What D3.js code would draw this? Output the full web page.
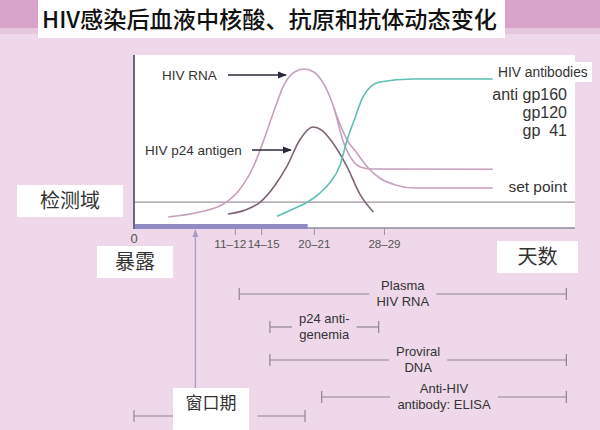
<!DOCTYPE html>
<html><head><meta charset="utf-8">
<script src="https://cdn.jsdelivr.net/npm/d3@7"></script>
<style>
body{margin:0;padding:0;background:#eed8e9;}
svg{display:block;}
</style></head>
<body>
<svg id="c" width="600" height="430"></svg>
<script>
// ---------- data ----------
const title = "HIV感染后血液中核酸、抗原和抗体动态变化";
const tickDays = [11.5, 14.5, 20.5, 28.5];
const tickLabels = ["11–12", "14–15", "20–21", "28–29"];
const detectionLevel = 15;
const exposureWindowEnd = 19.8;   // purple bar on axis (days)
const exposureArrowDay = 7;

// curves: day, relative level (0-100)
const rnaDays   = [3.9, 7.5, 10.4, 12.0, 13.7, 14.8, 16.0, 17.1, 18.3, 19.4, 20.5, 21.7, 22.8, 23.8, 24.9, 25.8, 27.1, 40.9];
const rnaLevels = [6.4, 9.2, 14.5, 22.0, 36.4, 50.9, 68.2, 82.7, 90.2, 91.9, 90.2, 82.7, 69.4, 50.9, 39.3, 35.3, 34.1, 34.0];
const rna2Days   = [22.8, 23.3, 24.3, 25.4, 26.7, 28.0, 29.8, 32.0, 40.9];
const rna2Levels = [69.4, 62.4, 50.9, 43.4, 34.7, 28.9, 24.9, 23.1, 23.1];
const p24Days   = [10.7, 12.7, 14.4, 16.1, 17.4, 18.9, 20.4, 21.4, 22.6, 24.3, 25.8, 27.3];
const p24Levels = [8.1, 10.4, 15.0, 24.9, 35.3, 50.9, 58.4, 56.6, 49.7, 35.3, 19.1, 9.2];
const abDays   = [16.3, 18.4, 19.8, 21.2, 22.3, 23.5, 24.3, 25.2, 26.1, 28.0, 31.8, 40.9];
const abLevels = [6.8, 11.6, 15.0, 20.2, 26.0, 36.4, 50.9, 63.6, 75.7, 84.4, 86.1, 86.1];

// assay detection ranges (days)
const assayLines1 = ["Plasma", "p24 anti-", "Proviral", "Anti-HIV", "窗口期"];
const assayLines2 = ["HIV RNA", "genemia", "DNA", "antibody: ELISA", ""];
const assayStart = [12.0, 15.5, 15.5, 21.4, 0];
const assayEnd   = [49.3, 27.9, 49.3, 49.3, 19.5];

// ---------- drawing ----------
const svg = d3.select("#c");
const latin = "'Liberation Sans', Arial, sans-serif";
const cjk = "'Noto Sans CJK SC', sans-serif";

// background bands
svg.append("rect").attr("x",0).attr("y",0).attr("width",600).attr("height",430).attr("fill","#eed8e9");
svg.append("rect").attr("x",0).attr("y",0).attr("width",600).attr("height",28).attr("fill","#d7a3c9");
svg.append("rect").attr("x",0).attr("y",28).attr("width",600).attr("height",6).attr("fill","#e6c6dd");
// title
svg.append("rect").attr("x",38).attr("y",0).attr("width",467).attr("height",38).attr("fill","#ffffff");
svg.append("text").attr("x",42).attr("y",28).attr("font-family",cjk).attr("font-size",23)
  .attr("font-weight",500).attr("fill","#111").attr("textLength",455).attr("lengthAdjust","spacingAndGlyphs").text(title);

const x = d3.scaleLinear().domain([0, 50]).range([134, 572.5]);
const y = d3.scaleLinear().domain([0, 100]).range([228, 55]);

// plot area
svg.append("rect").attr("x",x(0)).attr("y",y(100)).attr("width",575-x(0)).attr("height",y(0)-y(100)).attr("fill","#ffffff");
// label white backgrounds on right
svg.append("rect").attr("x",495).attr("y",62).attr("width",97).attr("height",20).attr("fill","#ffffff");

// detection threshold line
svg.append("line").attr("x1",x(0)).attr("x2",575).attr("y1",y(detectionLevel)).attr("y2",y(detectionLevel))
  .attr("stroke","#9d939b").attr("stroke-width",1.3);

// curves
const line = d3.line().x(d=>x(d[0])).y(d=>y(d[1])).curve(d3.curveMonotoneX);
const zip = (a,b)=>a.map((v,i)=>[v,b[i]]);
const g = svg.append("g").attr("fill","none").attr("stroke-width",1.6);
g.append("path").attr("d",line(zip(rnaDays,rnaLevels))).attr("stroke","#c69fbd");
g.append("path").attr("d",line(zip(rna2Days,rna2Levels))).attr("stroke","#c69fbd");
g.append("path").attr("d",line(zip(p24Days,p24Levels))).attr("stroke","#7d6377");
g.append("path").attr("d",line(zip(abDays,abLevels))).attr("stroke","#5cbfb3");

// axes
svg.append("line").attr("x1",x(0)).attr("x2",575).attr("y1",y(0)).attr("y2",y(0)).attr("stroke","#8f8b9c").attr("stroke-width",1.5);
svg.append("rect").attr("x",x(0)).attr("y",y(0)-4).attr("width",x(exposureWindowEnd)-x(0)).attr("height",5).attr("fill","#908bc2");
svg.append("line").attr("x1",x(0)).attr("x2",x(0)).attr("y1",y(100)).attr("y2",y(0)+1).attr("stroke","#6e6782").attr("stroke-width",2);

const labelShift = [-5, 2, 0, 0];
const xAxis = d3.axisBottom(x).tickValues(tickDays).tickFormat((d,i)=>tickLabels[i]).tickSize(7).tickPadding(5);
const ax = svg.append("g").attr("transform",`translate(0,${y(0)})`).call(xAxis);
ax.select(".domain").remove();
ax.selectAll(".tick line").attr("stroke","#999");
ax.selectAll(".tick text").attr("font-family",latin).attr("font-size",11).attr("fill","#555")
  .attr("dx",(d,i)=>labelShift[i]).attr("textLength",32).attr("lengthAdjust","spacingAndGlyphs");
svg.append("text").attr("x",x(0)).attr("y",243).attr("text-anchor","middle").attr("font-family",latin)
  .attr("font-size",13).attr("fill","#555").text("0");

// curve labels + arrows
svg.append("defs").append("marker").attr("id","ah").attr("viewBox","0 0 10 10").attr("refX",9).attr("refY",5)
  .attr("markerWidth",7).attr("markerHeight",7).attr("orient","auto")
  .append("path").attr("d","M0,1L10,5L0,9z").attr("fill","#2a2a3a");
svg.append("text").attr("x",162).attr("y",80).attr("font-family",latin).attr("font-size",13.5).attr("fill","#333").text("HIV RNA");
svg.append("line").attr("x1",228).attr("x2",286).attr("y1",75).attr("y2",75).attr("stroke","#2a2a3a").attr("stroke-width",1.3).attr("marker-end","url(#ah)");
svg.append("text").attr("x",145).attr("y",155).attr("font-family",latin).attr("font-size",13.5).attr("fill","#333").text("HIV p24 antigen");
svg.append("line").attr("x1",252).attr("x2",291).attr("y1",150).attr("y2",150).attr("stroke","#2a2a3a").attr("stroke-width",1.3).attr("marker-end","url(#ah)");

svg.append("text").attr("x",498).attr("y",77).attr("font-family",latin).attr("font-size",13.8).attr("fill","#333").text("HIV antibodies");
const gp = [["anti gp160",100],["gp120",118],["gp  41",136]];
gp.forEach(d=>svg.append("text").attr("x",567).attr("y",d[1]).attr("text-anchor","end").attr("xml:space","preserve")
  .attr("font-family",latin).attr("font-size",16).attr("fill","#333").text(d[0]));
svg.append("text").attr("x",567).attr("y",192).attr("text-anchor","end").attr("font-family",latin).attr("font-size",15.5).attr("fill","#333").text("set point");

// Chinese boxes
function cbox(x0,y0,w,h,txt,fs,ty){
  svg.append("rect").attr("x",x0).attr("y",y0).attr("width",w).attr("height",h).attr("fill","#ffffff");
  svg.append("text").attr("x",x0+w/2).attr("y",ty).attr("text-anchor","middle").attr("font-family",cjk)
    .attr("font-size",fs).attr("fill","#333").text(txt);
}
cbox(17,185,106,32,"检测域",20,208);
cbox(97,246,76,32,"暴露",20,269);
cbox(497,241,81,32,"天数",20,264);

// exposure arrow
svg.append("defs").append("marker").attr("id","ah2").attr("viewBox","0 0 10 10").attr("refX",9).attr("refY",5)
  .attr("markerWidth",6).attr("markerHeight",6).attr("orient","auto")
  .append("path").attr("d","M0,1L10,5L0,9z").attr("fill","#a99cc8");
svg.append("line").attr("x1",x(exposureArrowDay)).attr("x2",x(exposureArrowDay)).attr("y1",390).attr("y2",230)
  .attr("stroke","#a99cc8").attr("stroke-width",1.3).attr("marker-end","url(#ah2)");

// assay ranges
const rowY = [294, 327, 360, 397, 416];
const ag = svg.append("g");
assayStart.forEach((s,i)=>{
  const x0 = x(s), x1 = x(assayEnd[i]), yy = rowY[i], cx = (x0+x1)/2;
  let gapHalf;
  if (i === 4) {
    gapHalf = 38;
  } else {
    const t1 = ag.append("text").attr("x",cx).attr("y",yy-4).attr("text-anchor","middle").attr("font-family",latin)
      .attr("font-size",13).attr("fill","#333").text(assayLines1[i]);
    const t2 = ag.append("text").attr("x",cx).attr("y",yy+12).attr("text-anchor","middle").attr("font-family",latin)
      .attr("font-size",13).attr("fill","#333").text(assayLines2[i]);
    gapHalf = Math.max(t1.node().getBBox().width, t2.node().getBBox().width)/2 + 7;
  }
  const stroke = "#8e8590", sw = 1.2;
  const seg = (a,b)=>ag.append("line").attr("x1",a).attr("x2",b).attr("y1",yy).attr("y2",yy).attr("stroke",stroke).attr("stroke-width",sw);
  seg(x0, cx-gapHalf); seg(cx+gapHalf, x1);
  [x0,x1].forEach(xx=>ag.append("line").attr("x1",xx).attr("x2",xx).attr("y1",yy-6).attr("y2",yy+6).attr("stroke",stroke).attr("stroke-width",sw));
});
// window period box
cbox(173,388,76,42,"窗口期",17,409);
</script>
</body></html>
